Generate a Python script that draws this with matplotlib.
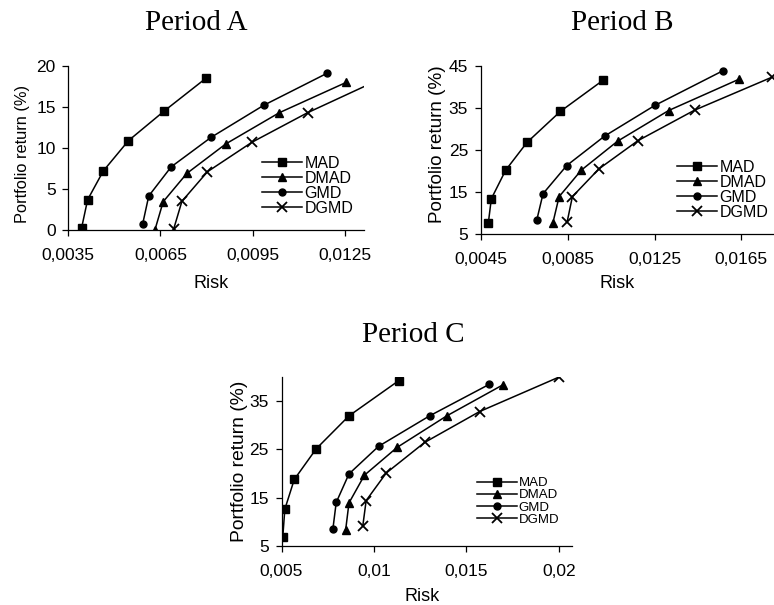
import matplotlib
matplotlib.use("Agg")
import matplotlib.pyplot as plt
from matplotlib.ticker import FixedLocator, FixedFormatter

plt.rcParams['font.family'] = ['Liberation Sans', 'DejaVu Sans']

series = ['MAD', 'DMAD', 'GMD', 'DGMD']

# Period A
a_risk = {
    'MAD':  [0.00393, 0.00413, 0.00464, 0.00546, 0.00662, 0.00798],
    'DMAD': [0.00632, 0.00659, 0.00736, 0.00863, 0.01037, 0.01255],
    'GMD':  [0.00592, 0.00612, 0.00685, 0.00815, 0.00986, 0.01192],
    'DGMD': [0.00693, 0.00720, 0.00803, 0.00948, 0.01129, 0.01360],
}
a_ret = {
    'MAD':  [0.2, 3.7, 7.2, 10.9, 14.5, 18.5],
    'DMAD': [0.0, 3.45, 6.9, 10.5, 14.3, 18.0],
    'GMD':  [0.7, 4.15, 7.7, 11.3, 15.2, 19.1],
    'DGMD': [0.1, 3.5, 7.1, 10.7, 14.3, 18.3],
}
a_xticks = [0.0035, 0.0065, 0.0095, 0.0125]
a_xlabels = ['0,0035', '0,0065', '0,0095', '0,0125']
a_yticks = [0, 5, 10, 15, 20]

# Period B
b_risk = {
    'MAD':  [0.00485, 0.00499, 0.00565, 0.00663, 0.00817, 0.01013],
    'DMAD': [0.00782, 0.00811, 0.00913, 0.01080, 0.01315, 0.01641],
    'GMD':  [0.00708, 0.00737, 0.00846, 0.01020, 0.01251, 0.01566],
    'DGMD': [0.00848, 0.00872, 0.00994, 0.01173, 0.01435, 0.01789],
}
b_ret = {
    'MAD':  [7.6, 13.4, 20.2, 26.8, 34.2, 41.6],
    'DMAD': [7.6, 13.9, 20.2, 27.1, 34.4, 41.9],
    'GMD':  [8.3, 14.6, 21.3, 28.3, 35.6, 43.9],
    'DGMD': [7.9, 13.9, 20.5, 27.2, 34.5, 42.3],
}
b_xticks = [0.0045, 0.0085, 0.0125, 0.0165]
b_xlabels = ['0,0045', '0,0085', '0,0125', '0,0165']
b_yticks = [5, 15, 25, 35, 45]

# Period C
c_risk = {
    'MAD':  [0.00507, 0.00518, 0.00569, 0.00688, 0.00865, 0.01135],
    'DMAD': [0.00847, 0.00865, 0.00949, 0.01126, 0.01394, 0.01697],
    'GMD':  [0.00778, 0.00796, 0.00865, 0.01025, 0.01301, 0.01623],
    'DGMD': [0.00940, 0.00958, 0.01067, 0.01274, 0.01572, 0.02000],
}
c_ret = {
    'MAD':  [6.9, 12.6, 18.75, 25.1, 31.9, 39.2],
    'DMAD': [8.3, 13.9, 19.65, 25.4, 31.9, 38.3],
    'GMD':  [8.5, 14.0, 19.9, 25.6, 31.9, 38.4],
    'DGMD': [9.2, 14.4, 20.1, 26.4, 32.8, 39.9],
}
c_xticks = [0.005, 0.01, 0.015, 0.02]
c_xlabels = ['0,005', '0,01', '0,015', '0,02']
c_yticks = [5, 15, 25, 35]

styles = {
    'MAD':  dict(marker='s', markersize=5.3),
    'DMAD': dict(marker='^', markersize=5.5),
    'GMD':  dict(marker='o', markersize=5.0),
    'DGMD': dict(marker='x', markersize=7, markeredgewidth=1.3),
}

W, H = 774, 605
fig = plt.figure(figsize=(W / 100, H / 100), dpi=100)


def px_axes(left, top, right, bottom):
    return fig.add_axes([left / W, 1 - bottom / H, (right - left) / W, (bottom - top) / H])


def draw(ax, risk, ret, xticks, xlabels, yticks, xlim, ylim, ylab_size):
    for s in series:
        ax.plot(risk[s], ret[s], color='black', linewidth=1.1, label=s, **styles[s])
    ax.set_xlim(*xlim)
    ax.set_ylim(*ylim)
    ax.xaxis.set_major_locator(FixedLocator(xticks))
    ax.xaxis.set_major_formatter(FixedFormatter(xlabels))
    ax.set_yticks(yticks)
    for sp in ['top', 'right']:
        ax.spines[sp].set_visible(False)
    for sp in ['left', 'bottom']:
        ax.spines[sp].set_linewidth(0.9)
    ax.tick_params(axis='both', direction='out', length=4, width=0.9, labelsize=12.5)
    ax.tick_params(axis='x', pad=9)
    ax.tick_params(axis='y', pad=5)
    ax.set_xlabel('Risk', fontsize=13)
    ax.set_ylabel('Portfolio return (%)', fontsize=ylab_size)


def add_legend(ax, left, top, size, hl, ls):
    ax.legend(loc='upper left', bbox_to_anchor=(left / W, 1 - top / H), bbox_transform=fig.transFigure,
              frameon=False, fontsize=size, numpoints=1, handlelength=hl, handletextpad=0.15,
              labelspacing=ls, borderpad=0, borderaxespad=0)


axA = px_axes(68.3, 66, 364, 230)
draw(axA, a_risk, a_ret, a_xticks, a_xlabels, a_yticks, (0.0035, 0.01313), (0, 20), 11.8)
axA.yaxis.set_label_coords(-0.131, 0.463)
axA.xaxis.set_label_coords(0.482, -0.274)
add_legend(axA, 262, 156, 11.5, 2.5, 0.0)

axB = px_axes(480.7, 66, 774, 234)
draw(axB, b_risk, b_ret, b_xticks, b_xlabels, b_yticks, (0.0045, 0.018), (5, 45), 13.6)
axB.yaxis.set_label_coords(-0.118, 0.536)
axB.xaxis.set_label_coords(0.466, -0.244)
add_legend(axB, 677, 160, 11.5, 2.5, 0.0)

axC = px_axes(281.5, 376.7, 571.7, 546)
draw(axC, c_risk, c_ret, c_xticks, c_xlabels, c_yticks, (0.005, 0.0207), (5, 40), 13.9)
axC.yaxis.set_label_coords(-0.115, 0.502)
axC.xaxis.set_label_coords(0.486, -0.248)
add_legend(axC, 477, 477, 9.5, 3.0, 0.0)

title_font = dict(family=['Liberation Serif', 'DejaVu Serif'], fontsize=21, ha='center', va='baseline')
fig.text(196.5 / W, 1 - 30 / H, 'Period A', **title_font)
fig.text(622.5 / W, 1 - 30 / H, 'Period B', **title_font)
fig.text(413.5 / W, 1 - 341.7 / H, 'Period C', **title_font)

fig.savefig('out.png', dpi=100)
